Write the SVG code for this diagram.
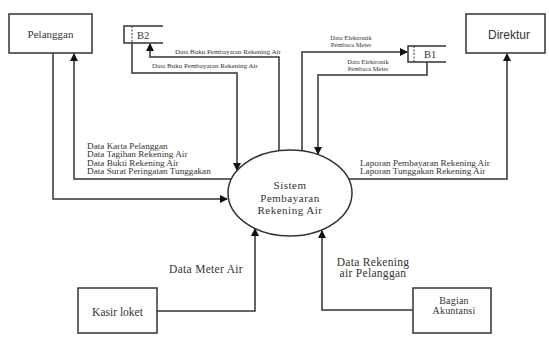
<svg xmlns="http://www.w3.org/2000/svg" width="549" height="338" viewBox="0 0 549 338">
<style>
.box{fill:#fff;stroke:#333;stroke-width:1.5}
.ln{fill:none;stroke:#333;stroke-width:1.5}
.t{font-family:"Liberation Serif","Times New Roman",serif;fill:#333}
.s{font-family:"Liberation Sans",Arial,sans-serif;fill:#333}
</style>
<defs>
<marker id="ah" markerWidth="8" markerHeight="8" refX="7" refY="4" orient="auto" markerUnits="userSpaceOnUse">
<path d="M0,0 L8,4 L0,8 Z" fill="#111"/>
</marker>
</defs>
<rect width="549" height="338" fill="#fff"/>
<g id="connectors">
<path class="ln" d="M53,53 V199 H227" marker-end="url(#ah)"/>
<path class="ln" d="M231,179 H74 V54" marker-end="url(#ah)"/>
<path class="ln" d="M132,43 V73 H237 V170" marker-end="url(#ah)"/>
<path class="ln" d="M279,151 V57 H150 V44" marker-end="url(#ah)"/>
<path class="ln" d="M302,150 V52 H407" marker-end="url(#ah)"/>
<path class="ln" d="M427,62 V75 H318 V154" marker-end="url(#ah)"/>
<path class="ln" d="M349,179 H507 V54" marker-end="url(#ah)"/>
<path class="ln" d="M157,311 H255 V229" marker-end="url(#ah)"/>
<path class="ln" d="M413,310 H322 V231" marker-end="url(#ah)"/>
<g class="t" font-size="9.2">
<text x="87" y="148.5">Data Karta Pelanggan</text>
<text x="87" y="157">Data Tagihan Rekening Air</text>
<text x="87" y="165.5">Data Bukti Rekening Air</text>
<text x="87" y="174">Data Surat Peringatan Tunggakan</text>
<text x="360" y="165.5">Laporan Pembayaran Rekening Air</text>
<text x="360" y="174">Laporan Tunggakan Rekening Air</text>
</g>
<g class="t" font-size="7">
<text x="175" y="54">Data Buku Pembayaran Rekening Air</text>
<text x="152" y="68">Data Buku Pembayaran Rekening Air</text>
</g>
<g class="t" font-size="6.5" text-anchor="middle">
<text x="351" y="40">Data Elektronik</text>
<text x="351" y="47">Pembaca Meter</text>
<text x="368" y="64">Data Elektronik</text>
<text x="368" y="71">Pembaca Meter</text>
</g>
<g class="t" font-size="11.5" letter-spacing="0.3" text-anchor="middle">
<text x="206" y="273">Data Meter Air</text>
<text x="373" y="266">Data Rekening</text>
<text x="373" y="277">air Pelanggan</text>
</g>
</g>
<g id="pelanggan">
<rect class="box" x="9" y="14" width="83" height="39"/>
<text class="t" x="50.5" y="37.5" font-size="11" text-anchor="middle">Pelanggan</text>
</g>
<g id="direktur">
<rect class="box" x="466" y="14" width="79" height="39"/>
<text class="s" x="509" y="39" font-size="12" text-anchor="middle">Direktur</text>
</g>
<g id="b2">
<path class="ln" d="M163,26 H124 V43 H163"/>
<path d="M132,26 V43" stroke="#333" stroke-width="1" stroke-dasharray="2,1.5"/>
<text class="t" x="137" y="39" font-size="10.5">B2</text>
</g>
<g id="b1">
<path class="ln" d="M446,46 H408 V62 H446"/>
<path d="M414,46 V62" stroke="#333" stroke-width="1" stroke-dasharray="2,1.5"/>
<text class="t" x="424" y="58" font-size="10.5">B1</text>
</g>
<g id="sistem">
<ellipse class="box" cx="290" cy="193" rx="62" ry="43"/>
<text class="t" font-size="11" letter-spacing="0.5" text-anchor="middle"><tspan x="290" y="189">Sistem</tspan><tspan x="290" y="202">Pembayaran</tspan><tspan x="290" y="214">Rekening Air</tspan></text>
</g>
<g id="kasir">
<rect class="box" x="78" y="288" width="79" height="45"/>
<text class="t" x="117.5" y="316" font-size="11.5" text-anchor="middle">Kasir loket</text>
</g>
<g id="akuntansi">
<rect class="box" x="413" y="288" width="78" height="45"/>
<text class="t" font-size="10" letter-spacing="0.2" text-anchor="middle"><tspan x="454" y="304">Bagian</tspan><tspan x="454" y="314">Akuntansi</tspan></text>
</g>
</svg>
